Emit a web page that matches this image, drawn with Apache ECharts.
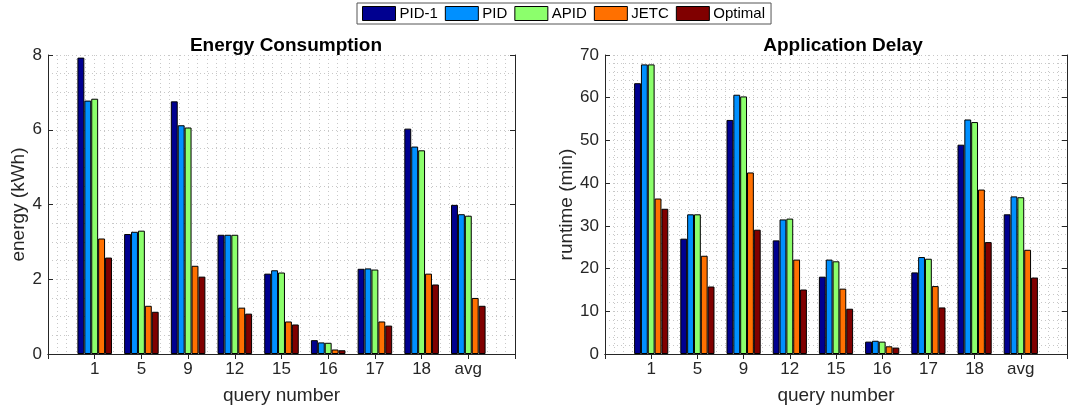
<!DOCTYPE html>
<html>
<head>
<meta charset="utf-8">
<script src="https://cdn.jsdelivr.net/npm/echarts@6/dist/echarts.min.js"></script>
<style>
html,body{margin:0;padding:0;background:#fff;}
#chart{width:1070px;height:410px;}
</style>
</head>
<body>
<div id="chart"></div>
<script>
// ---- data ----
const categories = ['1', '5', '9', '12', '15', '16', '17', '18', 'avg'];
const seriesNames = ['PID-1', 'PID', 'APID', 'JETC', 'Optimal'];
const seriesColors = ['#000090', '#0090ff', '#8cff6c', '#ff7000', '#800000'];

// Energy consumption (kWh)
const energyPID1    = [7.93, 3.21, 6.76, 3.19, 2.15, 0.37, 2.28, 6.03, 3.99];
const energyPID     = [6.78, 3.27, 6.12, 3.19, 2.24, 0.31, 2.29, 5.55, 3.74];
const energyAPID    = [6.83, 3.30, 6.06, 3.19, 2.18, 0.30, 2.26, 5.45, 3.70];
const energyJETC    = [3.09, 1.29, 2.36, 1.24, 0.87, 0.12, 0.87, 2.15, 1.50];
const energyOptimal = [2.58, 1.13, 2.07, 1.08, 0.79, 0.10, 0.76, 1.86, 1.29];

// Application delay (min)
const delayPID1    = [63.4, 27.0, 54.8, 26.6, 18.1, 2.9, 19.1, 49.0, 32.7];
const delayPID     = [67.8, 32.7, 60.7, 31.5, 22.1, 3.1, 22.7, 54.9, 36.9];
const delayAPID    = [67.8, 32.7, 60.3, 31.7, 21.7, 2.9, 22.3, 54.3, 36.7];
const delayJETC    = [36.4, 23.0, 42.5, 22.1, 15.3, 1.8, 15.9, 38.5, 24.4];
const delayOptimal = [34.0, 15.8, 29.1, 15.1, 10.6, 1.5, 10.9, 26.2, 17.9];

const energyTicks = { min: 0, max: 8, interval: 2 };
const delayTicks = { min: 0, max: 70, interval: 10 };

// ---- build ----
const padded = arr => ['-'].concat(arr, ['-']);
const axisCats = [''].concat(categories, ['']);
const FONT = 'Liberation Sans';
const AX = '#262626';
const GRIDC = '#c8c8c8';
const TICKFS = 17;
const NAMEFS = 19;

const grids = [
  { left: 48, top: 55, width: 467, height: 299 },
  { left: 605, top: 55, width: 467, height: 299 }
];

function xAxesFor(gi) {
  return [
    { type: 'category', gridIndex: gi, position: 'bottom', data: axisCats, boundaryGap: false,
      axisLine: { lineStyle: { color: AX, width: 1 } },
      axisTick: { inside: true, length: 5, lineStyle: { color: AX } },
      axisLabel: { color: AX, fontFamily: FONT, fontSize: TICKFS, margin: 7, interval: 0 },
      splitLine: { show: false },
      name: 'query number', nameLocation: 'middle', nameGap: 32,
      nameTextStyle: { color: AX, fontFamily: FONT, fontSize: NAMEFS } },
    { type: 'category', gridIndex: gi, position: 'top', data: axisCats, boundaryGap: false,
      axisLine: { lineStyle: { color: AX, width: 1 } },
      axisTick: { inside: true, length: 5, lineStyle: { color: AX } },
      axisLabel: { show: false }, splitLine: { show: false } },
    { type: 'value', gridIndex: gi, min: 0, max: 10, interval: 1, show: true,
      axisLine: { show: false }, axisTick: { show: false }, axisLabel: { show: false },
      splitLine: { show: true, lineStyle: { color: GRIDC, type: [1, 3], width: 1 } },
      minorTick: { show: false, splitNumber: 5 },
      minorSplitLine: { show: true, lineStyle: { color: GRIDC, type: [1, 3], width: 1 } } }
  ];
}

function yAxesFor(gi, t, name, gap, minorN) {
  return [
    { type: 'value', gridIndex: gi, position: 'left', min: t.min, max: t.max, interval: t.interval,
      axisLine: { show: true, lineStyle: { color: AX, width: 1 } },
      axisTick: { show: true, inside: true, length: 5, lineStyle: { color: AX } },
      axisLabel: { color: AX, fontFamily: FONT, fontSize: TICKFS, margin: 6 },
      splitLine: { show: true, lineStyle: { color: GRIDC, type: [1, 3], width: 1 } },
      minorTick: { show: false, splitNumber: minorN },
      minorSplitLine: { show: true, lineStyle: { color: GRIDC, type: [1, 3], width: 1 } },
      name: name, nameLocation: 'middle', nameGap: gap,
      nameTextStyle: { color: AX, fontFamily: FONT, fontSize: NAMEFS } },
    { type: 'value', gridIndex: gi, position: 'right', min: t.min, max: t.max, interval: t.interval,
      axisLine: { show: true, lineStyle: { color: AX, width: 1 } },
      axisTick: { show: true, inside: true, length: 5, lineStyle: { color: AX } },
      axisLabel: { show: false }, splitLine: { show: false } }
  ];
}

const xAxis = xAxesFor(0).concat(xAxesFor(1));
const yAxis = yAxesFor(0, energyTicks, 'energy (kWh)', 18, 4)
  .concat(yAxesFor(1, delayTicks, 'runtime (min)', 28, 5));

const energySets = [energyPID1, energyPID, energyAPID, energyJETC, energyOptimal];
const delaySets = [delayPID1, delayPID, delayAPID, delayJETC, delayOptimal];

const series = [];
function addBars(sets, xi, yi) {
  sets.forEach((vals, i) => {
    series.push({
      type: 'bar', name: seriesNames[i], xAxisIndex: xi, yAxisIndex: yi,
      data: padded(vals), barGap: '0%', barCategoryGap: '26%',
      itemStyle: { color: seriesColors[i], borderColor: '#000', borderWidth: 1 },
      emphasis: { disabled: true }, animation: false
    });
  });
}
addBars(energySets, 0, 0);
addBars(delaySets, 3, 2);

const option = {
  backgroundColor: '#fff',
  animation: false,
  textStyle: { fontFamily: FONT },
  title: [
    { text: 'Energy Consumption', left: 281, top: 31, textAlign: 'center',
      textStyle: { fontFamily: FONT, fontSize: 19, fontWeight: 'bold', color: '#000' } },
    { text: 'Application Delay', left: 838, top: 31, textAlign: 'center',
      textStyle: { fontFamily: FONT, fontSize: 19, fontWeight: 'bold', color: '#000' } }
  ],
  legend: {
    data: seriesNames.map(n => ({ name: n, icon: 'rect' })), top: 3, left: 357,
    itemWidth: 33, itemHeight: 14, itemGap: 7,
    padding: [3, 6, 3, 5],
    borderColor: '#555', borderWidth: 1,
    textStyle: { fontFamily: FONT, fontSize: 15, color: '#000', padding: [0, 0, 0, -1] },
    itemStyle: { borderColor: '#000', borderWidth: 1 },
    selectedMode: false
  },
  grid: grids,
  xAxis: xAxis,
  yAxis: yAxis,
  series: series
};

const chart = echarts.init(document.getElementById('chart'), null, { renderer: 'canvas' });
chart.setOption(option);
</script>
</body>
</html>
